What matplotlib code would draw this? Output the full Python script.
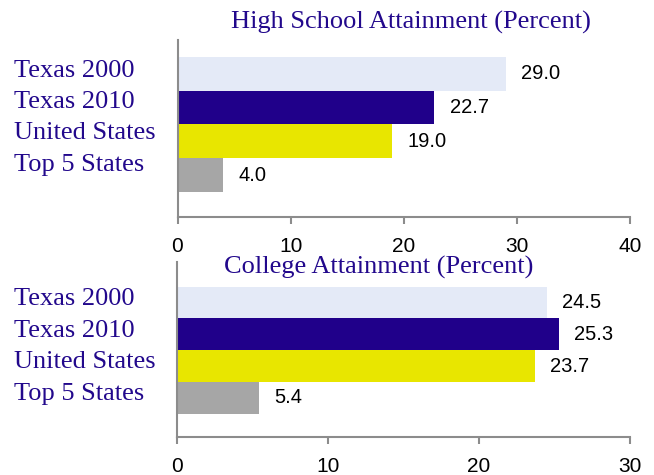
import matplotlib
matplotlib.use("Agg")
import matplotlib.pyplot as plt

# attainment gap data, top to bottom
categories = ["Texas 2000", "Texas 2010", "United States", "Top 5 States"]
high_school = [29.0, 22.7, 19.0, 4.0]
college = [24.5, 25.3, 23.7, 5.4]
bar_colors = ["#e4eaf7", "#20008a", "#e8e600", "#a6a6a6"]

hs_ticks = [0, 10, 20, 30, 40]
col_ticks = [0, 10, 20, 30]

navy = "#22088c"
axis_grey = "#8c8c8c"
serif = "Liberation Serif"
sans = "Liberation Sans"

W, H = 654, 475
fig = plt.figure(figsize=(W / 100, H / 100), dpi=100)


def panel(rect, values, ticks, ylim, title, title_xy, label_y0, label_step):
    ax = fig.add_axes(rect)
    pos = list(range(len(categories)))
    bars = ax.barh(pos, values, height=1.0, color=bar_colors, edgecolor="none")
    ax.bar_label(bars, fmt="%.1f", padding=11, fontsize=14.5,
                 family=sans, color="black")
    ax.set_xlim(ticks[0], ticks[-1])
    ax.set_ylim(*ylim)
    ax.set_xticks(ticks)
    ax.set_xticklabels([str(t) for t in ticks], family=sans, fontsize=15)
    ax.set_yticks([])
    for s in ["top", "right"]:
        ax.spines[s].set_visible(False)
    for s in ["left", "bottom"]:
        ax.spines[s].set_color(axis_grey)
        ax.spines[s].set_linewidth(1.5)
    ax.tick_params(axis="x", direction="out", length=5, width=1.5,
                   color=axis_grey, pad=9)

    fig.text(title_xy[0] / W, 1 - title_xy[1] / H, title, ha="center",
             va="baseline", family=serif, fontsize=19, color=navy)
    # category names, stacked down the left margin
    for i, name in enumerate(categories):
        y = label_y0 + i * label_step
        fig.text(14 / W, 1 - y / H, name, ha="left", va="baseline",
                 family=serif, fontsize=19, color=navy)
    return ax


panel([177.5 / W, 1 - 217.3 / H, 452.5 / W, 177.3 / H], high_school,
      hs_ticks, (4.25, -0.995), "High School Attainment (Percent)",
      (410.5, 29), 76.7, 31.3)
panel([177.0 / W, 1 - 437.3 / H, 453.0 / W, 175.6 / H], college,
      col_ticks, (4.24, -1.28), "College Attainment (Percent)",
      (378.5, 273.3), 305, 31.7)

fig.savefig("out.png", dpi=100)
